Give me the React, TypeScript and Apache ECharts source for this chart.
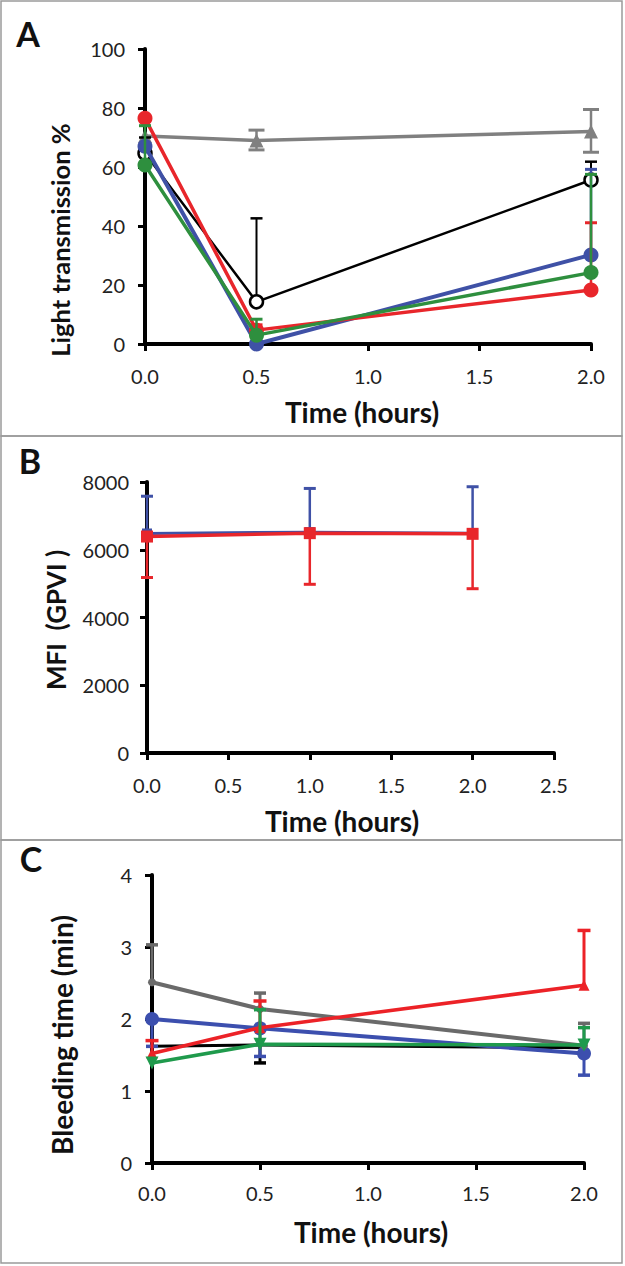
import React, { useEffect, useRef } from "react";
import * as echarts from "echarts";

// ---------- Panel A: light transmission ----------
const timeA = [0, 0.5, 2];
const aGreyMean = [70.5, 69, 72];
const aGreyUp = [null, 72.5, 79.5];
const aGreyDown = [null, 65.8, 65];
const aBlackMean = [64.7, 14.3, 55.6];
const aBlackUp = [70, 42.6, 61.8];
const aBlueMean = [67, 0, 30.2];
const aBlueUp = [null, null, 59.2];
const aRedMean = [76.5, 4.7, 18.3];
const aRedUp = [null, 6.5, 41.1];
const aGreenMean = [60.7, 3, 24.2];
const aGreenUp = [74, 8.4, 57.5];

// ---------- Panel B: MFI (GPVI) ----------
const timeB = [0, 1, 2];
const bBlueMean = [6480, 6520, 6490];
const bBlueUp = [7580, 7810, 7860];
const bRedMean = [6390, 6490, 6470];
const bRedDown = [5180, 4980, 4850];

// ---------- Panel C: bleeding time ----------
const timeC = [0, 0.5, 2];
const cGreyMean = [2.51, 2.14, 1.63];
const cGreyUp = [3.03, 2.36, 1.94];
const cBlueMean = [2.0, 1.87, 1.52];
const cBlueDown = [1.62, 1.48, 1.22];
const cRedMean = [1.52, 1.88, 2.47];
const cRedUp = [1.7, 2.25, 3.23];
const cGreenMean = [1.39, 1.65, 1.64];
const cGreenUp = [null, 2.13, 1.88];
const cBlackMean = [1.62, 1.64, 1.6];
const cBlackDown = [null, 1.39, null];

const yTicksA = [0, 100, 20];
const yTicksB = [0, 8000, 2000];
const yTicksC = [0, 4, 1];

const FONT = "Lato, 'Open Sans', sans-serif";
const GREY = "#808080";
const BLUE = "#3f51a6";
const RED = "#e8262b";
const GREEN = "#2e8f3e";
const GREY_C = "#6a6a6a";
const BLUE_C = "#3c4fae";
const RED_C = "#ec2227";
const GREEN_C = "#1f9a4c";

function pts(t: number[], m: number[]) {
  return t.map((x, i) => [x, m[i]]);
}

function errItems(t: number[], m: number[], ends: (number | null)[]) {
  const out: number[][] = [];
  t.forEach((x, i) => {
    const e = ends[i];
    if (e !== null && e !== undefined) out.push([x, m[i], e]);
  });
  return out;
}

function errSeries(gi: number, data: number[][], color: string, lw: number, capW: number, z: number) {
  return {
    type: "custom",
    xAxisIndex: gi,
    yAxisIndex: gi,
    z,
    clip: false,
    silent: true,
    encode: { x: 0, y: [1, 2] },
    data,
    renderItem: (params: any, api: any) => {
      const x = api.value(0);
      const p1 = api.coord([x, api.value(1)]);
      const p2 = api.coord([x, api.value(2)]);
      return {
        type: "group",
        children: [
          {
            type: "line",
            shape: { x1: p1[0], y1: p1[1], x2: p2[0], y2: p2[1] },
            style: { stroke: color, lineWidth: lw },
          },
          {
            type: "line",
            shape: { x1: p2[0] - capW / 2, y1: p2[1], x2: p2[0] + capW / 2, y2: p2[1] },
            style: { stroke: color, lineWidth: lw + 0.5 },
          },
        ],
      };
    },
  };
}

function lineSeries(
  gi: number,
  t: number[],
  m: number[],
  color: string,
  width: number,
  symbol: string,
  size: number,
  z: number,
  extra: any = {}
) {
  return {
    type: "line",
    xAxisIndex: gi,
    yAxisIndex: gi,
    data: pts(t, m),
    symbol,
    symbolSize: size,
    showSymbol: true,
    clip: false,
    z,
    lineStyle: { color, width },
    itemStyle: { color },
    ...extra,
  };
}

function xAxis(gi: number, max: number, margin: number) {
  return {
    gridIndex: gi,
    type: "value",
    min: 0,
    max,
    interval: 0.5,
    axisLine: { show: true, onZero: false, lineStyle: { color: "#000", width: 4 } },
    axisTick: { show: true, length: 7, lineStyle: { color: "#000", width: 3 } },
    axisLabel: {
      margin,
      fontSize: 20,
      color: "#222",
      fontFamily: FONT,
      formatter: (v: number) => v.toFixed(1),
    },
    splitLine: { show: false },
  };
}

function yAxis(gi: number, ticks: number[], margin: number) {
  return {
    gridIndex: gi,
    type: "value",
    min: ticks[0],
    max: ticks[1],
    interval: ticks[2],
    axisLine: { show: true, onZero: false, lineStyle: { color: "#000", width: 4 } },
    axisTick: { show: true, length: 7, lineStyle: { color: "#000", width: 3 } },
    axisLabel: {
      margin,
      fontSize: 20,
      color: "#222",
      fontFamily: FONT,
      formatter: (v: number) => String(v),
    },
    splitLine: { show: false },
  };
}

function txt(text: string, x: number, y: number, size: number, rot = 0) {
  return {
    type: "text",
    x,
    y,
    rotation: rot,
    z: 100,
    style: {
      text,
      font: `bold ${size}px ${FONT}`,
      fill: "#111",
      align: "center",
      verticalAlign: "middle",
      textAlign: "center",
      textVerticalAlign: "middle",
    },
  };
}

function frame(y1: number, y2: number) {
  return {
    type: "rect",
    shape: { x: 1, y: y1, width: 621, height: y2 - y1 },
    style: { fill: "none", stroke: "#9a9a9a", lineWidth: 1.5 },
    z: 0,
  };
}

const option: any = {
  animation: false,
  backgroundColor: "#fff",
  grid: [
    { left: 145, top: 49, width: 446, height: 295 },
    { left: 147, top: 482, width: 407, height: 271 },
    { left: 152, top: 875, width: 432, height: 288 },
  ],
  xAxis: [xAxis(0, 2, 22), xAxis(1, 2.5, 22), xAxis(2, 2, 20)],
  yAxis: [yAxis(0, yTicksA, 20), yAxis(1, yTicksB, 18), yAxis(2, yTicksC, 20)],
  graphic: [
    frame(1, 436),
    frame(436, 840),
    frame(840, 1263),
    txt("A", 28, 33, 34),
    txt("B", 30, 460, 34),
    txt("C", 31, 858, 34),
    txt("Time (hours)", 362, 412, 28),
    txt("Time (hours)", 342, 821, 28),
    txt("Time (hours)", 371, 1232, 28),
    txt("Light transmission %", 60, 240, 25.5, Math.PI / 2),
    txt("MFI  (GPVI )", 56, 620, 26, Math.PI / 2),
    txt("Bleeding time (min)", 62, 1035, 28, Math.PI / 2),
  ],
  series: [
    // Panel A
    lineSeries(0, timeA, aGreyMean, GREY, 3.5, "triangle", 14, 3),
    errSeries(0, errItems(timeA, aGreyMean, aGreyUp), GREY, 2.5, 16, 3),
    errSeries(0, errItems(timeA, aGreyMean, aGreyDown), GREY, 2.5, 16, 3),
    lineSeries(0, timeA, aBlackMean, "#000", 2.5, "circle", 13, 4, {
      itemStyle: { color: "#fff", borderColor: "#000", borderWidth: 2.5 },
    }),
    errSeries(0, errItems(timeA, aBlackMean, aBlackUp), "#000", 2, 12, 4),
    lineSeries(0, timeA, aBlueMean, BLUE, 4, "circle", 15, 5),
    errSeries(0, errItems(timeA, aBlueMean, aBlueUp), BLUE, 2.5, 12, 5),
    lineSeries(0, timeA, aRedMean, RED, 3.5, "circle", 15, 6),
    errSeries(0, errItems(timeA, aRedMean, aRedUp), RED, 2.5, 12, 6),
    lineSeries(0, timeA, aGreenMean, GREEN, 3.5, "circle", 15, 7),
    errSeries(0, errItems(timeA, aGreenMean, aGreenUp), GREEN, 2.5, 12, 7),
    // Panel B
    lineSeries(1, timeB, bBlueMean, BLUE, 3, "rect", 10, 3),
    errSeries(1, errItems(timeB, bBlueMean, bBlueUp), BLUE, 2.5, 12, 3),
    lineSeries(1, timeB, bRedMean, RED, 3.5, "rect", 12, 4),
    errSeries(1, errItems(timeB, bRedMean, bRedDown), RED, 2.5, 12, 4),
    // Panel C
    lineSeries(2, timeC, cBlackMean, "#000", 3, "none", 1, 3),
    errSeries(2, errItems(timeC, cBlackMean, cBlackDown), "#000", 3, 12, 3),
    lineSeries(2, timeC, cBlueMean, BLUE_C, 4, "circle", 14, 4),
    errSeries(2, errItems(timeC, cBlueMean, cBlueDown), BLUE_C, 3, 12, 4),
    lineSeries(2, timeC, cGreyMean, GREY_C, 4, "circle", 8, 5),
    errSeries(2, errItems(timeC, cGreyMean, cGreyUp), GREY_C, 3, 12, 5),
    lineSeries(2, timeC, cRedMean, RED_C, 3.5, "triangle", 11, 6),
    errSeries(2, errItems(timeC, cRedMean, cRedUp), RED_C, 3, 13, 6),
    lineSeries(2, timeC, cGreenMean, GREEN_C, 3.5, "triangle", 13, 7, { symbolRotate: 180 }),
    errSeries(2, errItems(timeC, cGreenMean, cGreenUp), GREEN_C, 3, 12, 7),
  ],
};

export default function App() {
  const ref = useRef<HTMLDivElement>(null);
  useEffect(() => {
    document.body.style.margin = "0";
    const chart = echarts.init(ref.current as HTMLDivElement, null, { renderer: "svg" });
    chart.setOption(option);
    return () => chart.dispose();
  }, []);
  return (
    <div
      ref={ref}
      style={{ position: "absolute", left: 0, top: 0, width: 625, height: 1266, background: "#fff" }}
    />
  );
}
